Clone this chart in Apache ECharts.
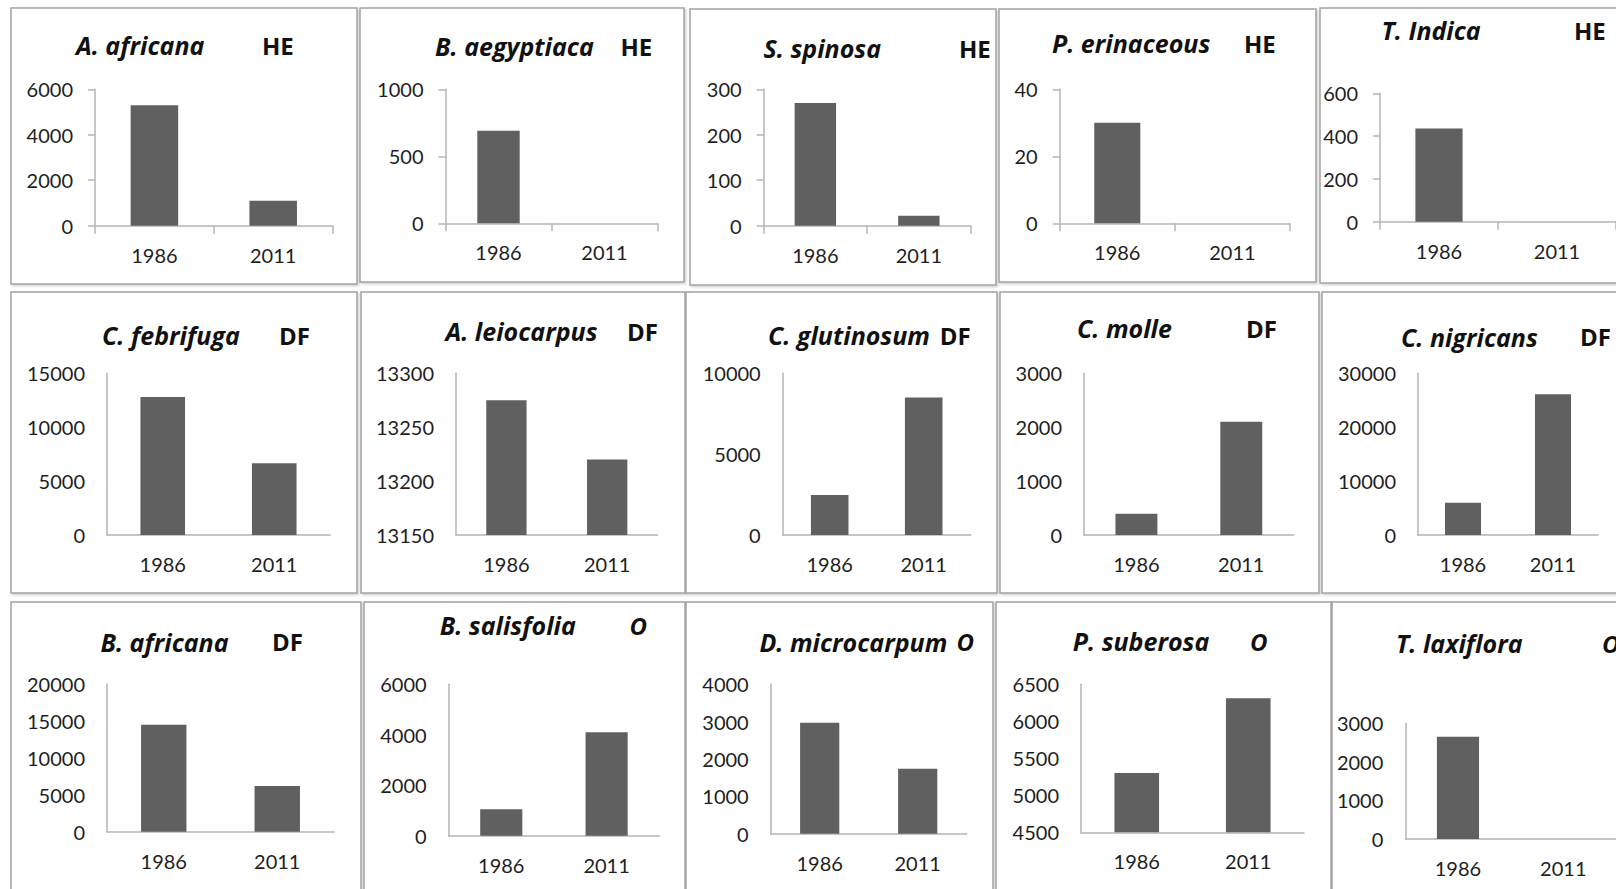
<!DOCTYPE html>
<html>
<head>
<meta charset="utf-8">
<title>Stem density 1986 vs 2011 by species</title>
<script src="https://cdn.jsdelivr.net/npm/echarts@6/dist/echarts.min.js"></script>
<style>
  html, body { margin: 0; padding: 0; background: #ffffff; }
  #chart { width: 1616px; height: 889px; }
</style>
</head>
<body>
<div id="chart"></div>
<script>
// ---- data ----
const years = ['1986', '2011'];
const species = [
  'A. africana', 'B. aegyptiaca', 'S. spinosa', 'P. erinaceous', 'T. Indica',
  'C. febrifuga', 'A. leiocarpus', 'C. glutinosum', 'C. molle', 'C. nigricans',
  'B. africana', 'B. salisfolia', 'D. microcarpum', 'P. suberosa', 'T. laxiflora'
];
const groups = [
  'HE', 'HE', 'HE', 'HE', 'HE',
  'DF', 'DF', 'DF', 'DF', 'DF',
  'DF', 'O', 'O', 'O', 'O'
];
const values1986 = [5300, 690, 270, 30, 435, 12800, 13275, 2470, 395, 6000, 14500, 1050, 2970, 5300, 2650];
const values2011 = [1100, 0, 22, 0, 0, 6650, 13220, 8500, 2100, 26100, 6200, 4100, 1740, 6310, 0];
// value-axis tick labels: min, max, step
const yMin  = [0, 0, 0, 0, 0, 0, 13150, 0, 0, 0, 0, 0, 0, 4500, 0];
const yMax  = [6000, 1000, 300, 40, 600, 15000, 13300, 10000, 3000, 30000, 20000, 6000, 4000, 6500, 3000];
const yStep = [2000, 500, 100, 20, 200, 5000, 50, 5000, 1000, 10000, 5000, 2000, 1000, 500, 1000];

// ---- layout (pixels) ----
// frame: panel border box; plot: axis box [left, top, width, height]; name/tag: title anchors
const frames = [
  [11, 8, 346, 276], [360, 8, 324, 274], [690, 9, 306, 276], [999, 9, 317, 273], [1320, 8, 320, 275],
  [11, 292, 346, 301], [361, 292, 324, 301], [686, 292, 311, 301], [1000, 292, 319, 301], [1322, 292, 320, 301],
  [11, 602, 350, 300], [364, 602, 321, 300], [686, 602, 307, 300], [996, 602, 335, 300], [1332, 602, 310, 300]
];
const plots = [
  [95, 89.3, 237.6, 136.4], [445.5, 89.3, 212, 134], [763.6, 89.3, 207, 136.4], [1059.7, 89.3, 230.3, 134], [1380, 93.3, 250, 128.4],
  [107, 373.3, 223, 161.7], [456, 373.3, 201.6, 161.7], [782.7, 373.3, 188, 161.7], [1084, 373.3, 209.7, 161.7], [1418, 373.3, 180, 161.7],
  [107, 684.3, 227, 147.4], [448.6, 684.3, 210.7, 151.4], [770.7, 684.3, 196, 149.4], [1081, 684.3, 223, 148], [1405.3, 723.3, 223, 115.7]
];
const namePos = [
  [76, 45], [435, 46], [763.6, 48.3], [1052, 43.3], [1381.5, 30],
  [102, 335], [445.5, 331], [768, 335], [1077, 328.3], [1401, 336.7],
  [100.4, 641.7], [439.7, 625], [759.4, 641.7], [1072.8, 641], [1396, 643.3]
];
const tagX = [262, 620.5, 959, 1244, 1574, 279, 627, 939.7, 1246, 1580, 272, 629.4, 956.4, 1250, 1602];

const FONT = 'Lato, "Open Sans", sans-serif';
const TITLE_FONT = '"Open Sans", "Noto Sans", sans-serif';
const AXIS_COLOR = '#b4b4b4';
const BAR_COLOR = '#606060';
const TEXT_COLOR = '#1e1e1e';

const grid = [], xAxis = [], yAxis = [], series = [], graphic = [];

species.forEach((name, i) => {
  const p = plots[i];
  const withTicks = i < 5; // top row draws tick marks on both axes

  grid.push({ left: p[0], top: p[1], width: p[2], height: p[3], containLabel: false });

  xAxis.push({
    type: 'category',
    gridIndex: i,
    data: years,
    axisLine: { show: true, lineStyle: { color: AXIS_COLOR, width: 1.5 } },
    axisTick: { show: withTicks, length: 8, lineStyle: { color: AXIS_COLOR, width: 1.5 } },
    axisLabel: { color: TEXT_COLOR, fontSize: 20, fontFamily: FONT, margin: 19 },
    splitLine: { show: false }
  });

  yAxis.push({
    type: 'value',
    gridIndex: i,
    min: yMin[i],
    max: yMax[i],
    interval: yStep[i],
    axisLine: { show: true, lineStyle: { color: AXIS_COLOR, width: 1.5 } },
    axisTick: { show: withTicks, length: 7, lineStyle: { color: AXIS_COLOR, width: 1.5 } },
    axisLabel: {
      color: TEXT_COLOR, fontSize: 20, fontFamily: FONT, margin: 22,
      formatter: v => String(v)
    },
    splitLine: { show: false }
  });

  series.push({
    type: 'bar',
    name: name,
    xAxisIndex: i,
    yAxisIndex: i,
    data: [values1986[i], values2011[i]],
    barCategoryGap: '60%',
    itemStyle: { color: BAR_COLOR },
    silent: true
  });

  const f = frames[i];
  graphic.push({
    type: 'rect',
    silent: true,
    z: -1,
    shape: { x: f[0], y: f[1], width: f[2], height: f[3] },
    style: {
      fill: '#ffffff',
      stroke: '#a3a3a3',
      lineWidth: 1.5,
      shadowColor: 'rgba(0,0,0,0.18)',
      shadowBlur: 2,
      shadowOffsetX: 1.5,
      shadowOffsetY: 1.5
    }
  });

  graphic.push({
    type: 'text',
    silent: true,
    x: namePos[i][0],
    y: namePos[i][1],
    style: {
      text: name,
      fill: '#111111',
      font: 'italic bold 25px ' + TITLE_FONT,
      verticalAlign: 'middle',
      align: 'left'
    }
  });

  graphic.push({
    type: 'text',
    silent: true,
    x: tagX[i],
    y: namePos[i][1],
    style: {
      text: groups[i],
      fill: '#111111',
      font: (groups[i] === 'O' ? 'italic ' : '') + 'bold 24px ' + TITLE_FONT,
      verticalAlign: 'middle',
      align: 'left'
    }
  });
});

const chart = echarts.init(document.getElementById('chart'), null, { renderer: 'svg' });
chart.setOption({
  backgroundColor: '#ffffff',
  animation: false,
  grid: grid,
  xAxis: xAxis,
  yAxis: yAxis,
  series: series,
  graphic: graphic
});
</script>
</body>
</html>
